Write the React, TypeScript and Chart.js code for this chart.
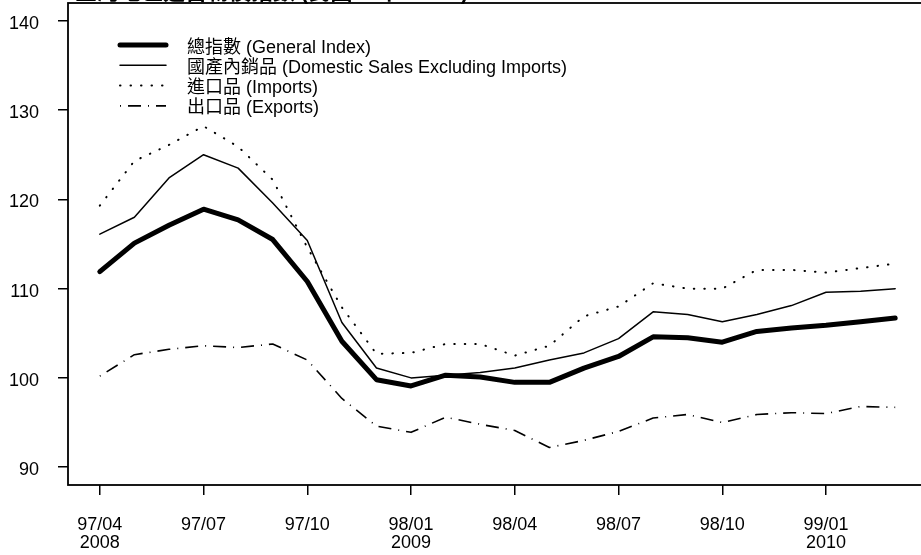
import React, { useEffect, useRef } from "react";
import { Chart, registerables } from "chart.js";

Chart.register(...registerables);

// ---- data ----
const months = [
  "97/04", "97/05", "97/06", "97/07", "97/08", "97/09", "97/10", "97/11", "97/12",
  "98/01", "98/02", "98/03", "98/04", "98/05", "98/06", "98/07", "98/08", "98/09",
  "98/10", "98/11", "98/12", "99/01", "99/02", "99/03",
];
const tickIndex = [0, 3, 6, 9, 12, 15, 18, 21];
const tickMonths = ["97/04", "97/07", "97/10", "98/01", "98/04", "98/07", "98/10", "99/01"];
const tickYears = ["2008", "", "", "2009", "", "", "", "2010"];
const yTicks = [90, 100, 110, 120, 130, 140];

const seriesNames = [
  "總指數 (General Index)",
  "國產內銷品 (Domestic Sales Excluding Imports)",
  "進口品 (Imports)",
  "出口品 (Exports)",
];
const generalIndex = [111.9, 115.1, 117.1, 118.9, 117.7, 115.5, 110.8, 104.1, 99.8, 99.1, 100.3, 100.1, 99.5, 99.5, 101.1, 102.4, 104.6, 104.5, 104.0, 105.2, 105.6, 105.9, 106.3, 106.7];
const domestic = [116.1, 118.0, 122.4, 125.0, 123.5, 119.6, 115.4, 106.2, 101.1, 100.0, 100.3, 100.6, 101.1, 102.0, 102.8, 104.4, 107.4, 107.1, 106.3, 107.1, 108.1, 109.6, 109.7, 110.0];
const imports = [119.3, 124.3, 126.1, 128.2, 125.9, 122.2, 114.6, 107.9, 102.7, 102.8, 103.8, 103.8, 102.5, 103.6, 106.9, 108.0, 110.6, 110.0, 110.0, 112.1, 112.1, 111.8, 112.3, 112.8];
const exportsIdx = [100.2, 102.6, 103.2, 103.6, 103.4, 103.8, 102.0, 97.7, 94.6, 93.9, 95.6, 94.8, 94.1, 92.2, 93.0, 94.0, 95.5, 95.9, 95.0, 95.9, 96.1, 96.0, 96.8, 96.7];
const titleText = "臺灣地區躉售物價指數 (民國95年 = 100)";

const FONT = '"Liberation Sans", Arial, "Noto Sans CJK TC", sans-serif';

const styles = [
  { width: 5, dash: [] as number[], cap: "round" as CanvasLineCap },
  { width: 1.5, dash: [] as number[], cap: "round" as CanvasLineCap },
  { width: 2, dash: [0.5, 10], cap: "round" as CanvasLineCap },
  { width: 1.6, dash: [1, 7, 13, 7], cap: "butt" as CanvasLineCap },
];

const toXY = (arr: number[]) => arr.map((v, i) => ({ x: i, y: v }));

const framePlugin = {
  id: "frame",
  afterDraw(chart: any) {
    const { ctx, chartArea } = chart;
    ctx.save();
    // box
    ctx.strokeStyle = "#000";
    ctx.lineWidth = 1.8;
    ctx.setLineDash([]);
    ctx.strokeRect(chartArea.left, chartArea.top, chartArea.right - chartArea.left, chartArea.bottom - chartArea.top);

    // title (mostly cut off at top of page)
    ctx.fillStyle = "#000";
    ctx.font = `bold 22px ${FONT}`;
    ctx.textAlign = "left";
    ctx.textBaseline = "alphabetic";
    ctx.fillText(titleText, 75, chartArea.top - 4);

    // legend
    const x0 = 120, x1 = 166, tx = 187;
    const y0 = chartArea.top + 42;
    const step = 20.3;
    ctx.font = `18px ${FONT}`;
    seriesNames.forEach((name, k) => {
      const y = y0 + k * step;
      const st = styles[k];
      ctx.beginPath();
      ctx.lineWidth = st.width;
      ctx.lineCap = st.cap;
      ctx.setLineDash(st.dash);
      ctx.moveTo(x0, y);
      ctx.lineTo(x1, y);
      ctx.stroke();
      ctx.setLineDash([]);
      ctx.fillText(name, tx, y + 7.5);
    });
    ctx.restore();
  },
};

export default function App() {
  const ref = useRef<HTMLCanvasElement | null>(null);

  useEffect(() => {
    if (!ref.current) return;
    const series = [generalIndex, domestic, imports, exportsIdx];
    const chart = new Chart(ref.current, {
      type: "line",
      data: {
        datasets: series.map((s, k) => ({
          label: seriesNames[k],
          data: toXY(s),
          borderColor: "#000",
          backgroundColor: "#000",
          borderWidth: styles[k].width,
          borderDash: styles[k].dash,
          borderCapStyle: styles[k].cap,
          borderJoinStyle: "round",
          pointRadius: 0,
          tension: 0,
          fill: false,
        })),
      },
      options: {
        responsive: false,
        animation: false,
        layout: { padding: { top: 43, right: 13, left: 0, bottom: 0 } },
        plugins: { legend: { display: false }, tooltip: { enabled: false }, title: { display: false } },
        scales: {
          x: {
            type: "linear",
            min: -0.92,
            max: 23.92,
            afterBuildTicks: (axis: any) => {
              axis.ticks = tickIndex.map((v) => ({ value: v }));
            },
            afterFit: (axis: any) => {
              axis.height = 70;
            },
            border: { display: false },
            grid: { drawOnChartArea: false, drawTicks: true, tickLength: 10, color: "#000", lineWidth: 1.5 },
            ticks: {
              autoSkip: false,
              maxRotation: 0,
              minRotation: 0,
              padding: 21,
              color: "#000",
              font: { family: FONT, size: 18, lineHeight: 1 },
              callback: (v: any) => {
                const k = tickIndex.indexOf(Number(v));
                if (k < 0) return "";
                return tickYears[k] ? [tickMonths[k], tickYears[k]] : tickMonths[k];
              },
            },
          },
          y: {
            type: "linear",
            min: 88,
            max: 142,
            afterBuildTicks: (axis: any) => {
              axis.ticks = yTicks.map((v) => ({ value: v }));
            },
            afterFit: (axis: any) => {
              axis.width = 68;
            },
            border: { display: false },
            grid: { drawOnChartArea: false, drawTicks: true, tickLength: 10, color: "#000", lineWidth: 1.5 },
            ticks: {
              padding: 19,
              labelOffset: 3,
              color: "#000",
              font: { family: FONT, size: 18 },
              callback: (v: any) => String(v),
            },
          },
        },
      },
      plugins: [framePlugin],
    });
    return () => chart.destroy();
  }, []);

  return (
    <div
      style={{
        position: "fixed",
        left: 0,
        top: 0,
        width: "100vw",
        height: "100vh",
        overflow: "hidden",
        background: "#fff",
      }}
    >
      <canvas
        ref={ref}
        width={940}
        height={595}
        style={{ position: "absolute", left: 0, top: -40, width: 940, height: 595 }}
      />
    </div>
  );
}
